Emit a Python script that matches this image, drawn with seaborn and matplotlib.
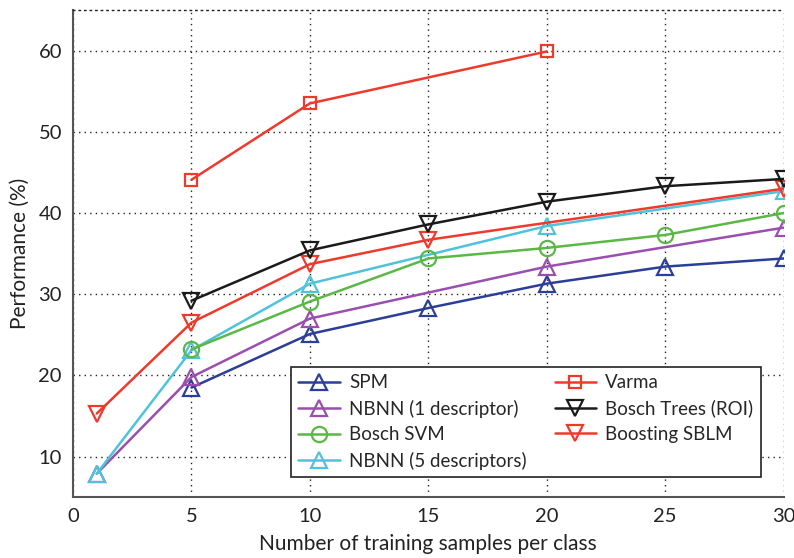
import matplotlib
matplotlib.use("Agg")
import matplotlib.pyplot as plt
import seaborn as sns
import pandas as pd

# ---- data ----
spm_x = [5, 10, 15, 20, 25, 30]
spm_y = [18.5, 25.1, 28.3, 31.3, 33.4, 34.4]

nbnn1_x = [1, 5, 10, 20, 30]
nbnn1_y = [7.9, 19.8, 27.0, 33.4, 38.2]

svm_x = [5, 10, 15, 20, 25, 30]
svm_y = [23.2, 29.1, 34.4, 35.7, 37.3, 40.0]

nbnn5_x = [1, 5, 10, 20, 30]
nbnn5_y = [7.9, 23.1, 31.3, 38.4, 42.7]

varma_x = [5, 10, 20]
varma_y = [44.1, 53.5, 59.9]

trees_x = [5, 10, 15, 20, 25, 30]
trees_y = [29.2, 35.4, 38.6, 41.4, 43.3, 44.2]

sblm_x = [1, 5, 10, 15, 30]
sblm_y = [15.3, 26.5, 33.7, 36.7, 43.0]

labels = ["SPM", "NBNN (1 descriptor)", "Bosch SVM", "NBNN (5 descriptors)",
          "Varma", "Bosch Trees (ROI)", "Boosting SBLM"]
x_ticks = [0, 5, 10, 15, 20, 25, 30]
y_ticks = [10, 20, 30, 40, 50, 60]

sns.set_style("white")
plt.rcParams['font.family'] = ['Lato', 'DejaVu Sans']

fig = plt.figure(figsize=(7.94, 5.58), dpi=100)
ax = fig.add_axes([0.092, 0.109, 0.895, 0.873])

series = [
    (spm_x, spm_y, labels[0], "#2B3F99", "^"),
    (nbnn1_x, nbnn1_y, labels[1], "#9A4EAE", "^"),
    (nbnn5_x, nbnn5_y, labels[3], "#4EC3DA", "^"),
    (svm_x, svm_y, labels[2], "#5BB846", "o"),
    (varma_x, varma_y, labels[4], "#EE3A2C", "s"),
    (sblm_x, sblm_y, labels[6], "#EE3A2C", "v"),
    (trees_x, trees_y, labels[5], "#1A1A1A", "v"),
]

handles = {}
for xs, ys, lab, col, mk in series:
    df = pd.DataFrame({"x": xs, "y": ys})
    msize = 9 if mk == "s" else 11
    sns.lineplot(data=df, x="x", y="y", ax=ax, color=col, marker=mk,
                 markersize=msize, markerfacecolor="none", markeredgecolor=col,
                 markeredgewidth=1.6, linewidth=1.8, label=lab, legend=False)
    handles[lab] = ax.lines[-1]

ax.set_xlim(0, 30)
ax.set_ylim(5, 65)
ax.set_xticks(x_ticks)
ax.set_yticks(y_ticks)
ax.tick_params(axis="both", length=0, labelsize=14.5, colors="#222222", pad=8)
ax.grid(True, linestyle=(0, (1, 3)), color="#222222", linewidth=1.0)
for s in ["left", "bottom"]:
    ax.spines[s].set_color("#555555")
    ax.spines[s].set_linewidth(1.5)
ax.spines["right"].set_visible(False)
ax.spines["top"].set_linestyle((0, (1, 3)))
ax.spines["top"].set_color("#222222")
ax.spines["top"].set_linewidth(1.0)

ax.set_xlabel("Number of training samples per class", fontsize=15, color="#222222", labelpad=6)
ax.set_ylabel("Performance (%)", fontsize=15, color="#222222", labelpad=6)

leg = ax.legend([handles[l] for l in labels], labels, ncol=2, loc="lower right",
                bbox_to_anchor=(0.968, 0.041), borderaxespad=0, fontsize=13.5,
                frameon=True, fancybox=False, edgecolor="#222222", framealpha=1,
                handlelength=2.2, columnspacing=1.5, labelspacing=0.45,
                borderpad=0.4, handletextpad=0.5)
leg.get_frame().set_linewidth(1.2)

fig.savefig("out.png", dpi=100)
